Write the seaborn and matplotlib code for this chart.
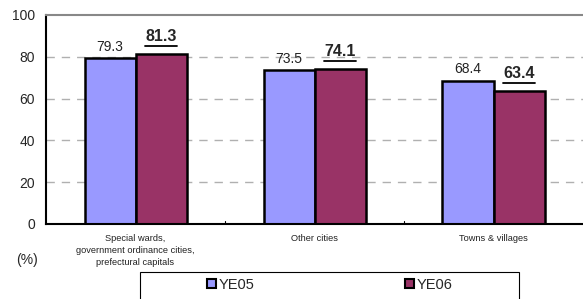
import pandas as pd
import seaborn as sns
import matplotlib
matplotlib.use('Agg')
import matplotlib.pyplot as plt
from matplotlib.lines import Line2D
from matplotlib.patches import Rectangle

# Данные
categories = ["Special wards,\ngovernment ordinance cities,\nprefectural capitals",
              "Other cities", "Towns & villages"]
ye05 = [79.3, 73.5, 68.4]
ye06 = [81.3, 74.1, 63.4]
years = ["YE05", "YE06"]
colors = ["#9999FF", "#993366"]

df = pd.DataFrame({
    "category": categories * 2,
    "year": [years[0]] * 3 + [years[1]] * 3,
    "value": ye05 + ye06,
})

sns.set_style("white")
plt.rcParams['font.family'] = ['Liberation Sans', 'DejaVu Sans']

fig = plt.figure(figsize=(5.83, 2.99), dpi=100)
ax = fig.add_axes([0.079, 0.251, 0.921, 0.699])

sns.barplot(data=df, x="category", y="value", hue="year", palette=colors, saturation=1,
            width=0.57, edgecolor="black", linewidth=1.8, ax=ax, legend=False)

ax.set_xlim(-0.5, 2.5)
ax.set_ylim(0, 100)
ax.set_yticks([0, 20, 40, 60, 80, 100])
ax.tick_params(axis='y', labelsize=10, length=0, pad=8)
ax.tick_params(axis='x', length=0, pad=7)
for lbl in ax.get_xticklabels():
    lbl.set_fontsize(6.7)
    lbl.set_linespacing(1.45)
    lbl.set_color("#222222")
ax.set_xlabel("")
ax.set_ylabel("")
for y in [20, 40, 60, 80]:
    ax.axhline(y, color="#b0b0b0", linestyle=(0, (6, 5)), linewidth=1, zorder=0)
ax.spines['left'].set_color("black")
ax.spines['bottom'].set_color("black")
ax.spines['left'].set_linewidth(1.5)
ax.spines['bottom'].set_linewidth(1.5)
ax.spines['top'].set_color("#888888")
ax.spines['top'].set_linewidth(1.5)
ax.spines['right'].set_visible(False)
for xb in [0.5, 1.5]:
    ax.plot([xb, xb], [0, 1.5], color="black", linewidth=0.8)

# Подписи значений
bold_texts = []
for c in ax.containers[0]:
    ax.text(c.get_x() + c.get_width() / 2, c.get_height() + 2.2, f"{c.get_height():.1f}",
            ha="center", va="bottom", fontsize=10, color="#222222")
for c in ax.containers[1]:
    t = ax.text(c.get_x() + c.get_width() / 2, c.get_height() + 6.2, f"{c.get_height():.1f}",
                ha="center", va="baseline", fontsize=11.5, fontweight="bold")
    bold_texts.append(t)

fig.text(0.046, 0.13, "(%)", fontsize=10, ha="center", va="center")

# Легенда
fig.add_artist(Rectangle((140 / 583, -0.02), 379 / 583, 27 / 299 + 0.02, transform=fig.transFigure,
                         facecolor="white", edgecolor="black", linewidth=0.8))
handles = [Rectangle((0, 0), 1, 1, facecolor=col, edgecolor="black", linewidth=1.5) for col in colors]
leg = fig.legend(handles, years, loc="center", bbox_to_anchor=(0.566, 0.047),
                 ncol=2, frameon=False, fontsize=10.5, columnspacing=10.3,
                 handlelength=0.6, handleheight=0.6, handletextpad=0.2)

# Подчёркивание жирных подписей
fig.canvas.draw()
inv = fig.transFigure.inverted()
for t in bold_texts:
    bb = t.get_window_extent()
    (x0, y0), (x1, _) = inv.transform([[bb.x0, bb.y0 - 2], [bb.x1, bb.y1]])
    fig.add_artist(Line2D([x0, x1], [y0, y0], color="black", linewidth=1.3,
                          transform=fig.transFigure))

plt.savefig("out.png", dpi=100)
plt.close()
